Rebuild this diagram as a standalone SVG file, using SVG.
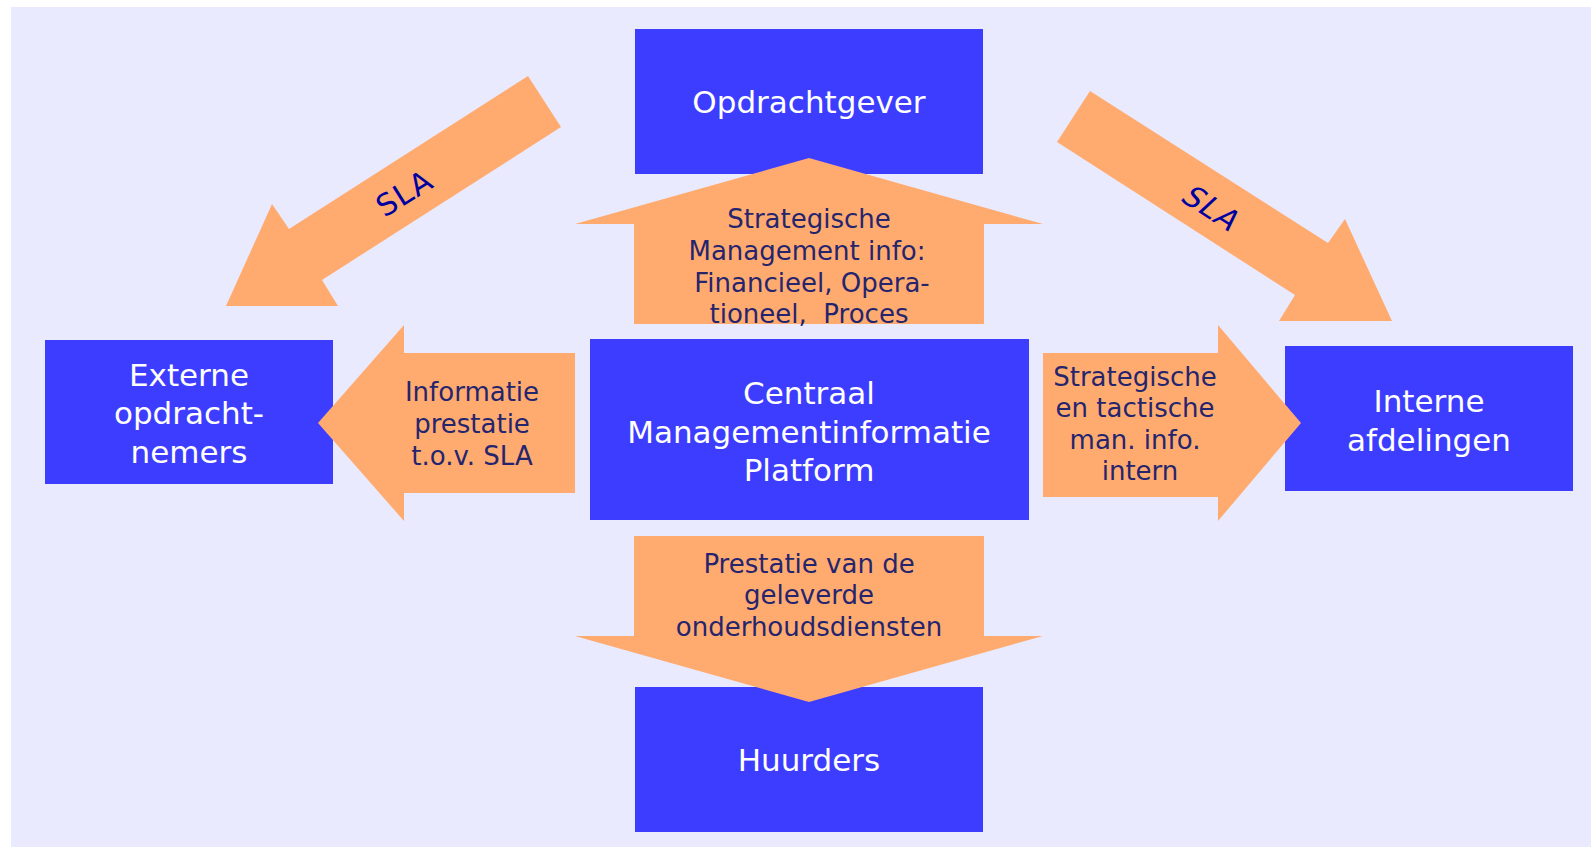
<svg xmlns="http://www.w3.org/2000/svg" width="1591" height="847" viewBox="0 0 1591 847">
<style>
.box{fill:#3d3dff}
.arr{fill:#ffab70}
.wt{fill:#ffffff;font-family:"DejaVu Sans",Verdana,sans-serif;font-size:31px;text-anchor:middle}
.ot{fill:#25256e;font-family:"DejaVu Sans",Verdana,sans-serif;font-size:26px;text-anchor:middle;white-space:pre}
.sla{fill:#0000a0;font-family:"DejaVu Sans",Verdana,sans-serif;font-size:30px;text-anchor:middle;letter-spacing:1px}
</style>
<rect x="0" y="0" width="1591" height="847" fill="#ffffff"/>
<rect x="11" y="7" width="1580" height="840" fill="#e9eafd"/>
<g id="opdrachtgever">
<rect class="box" x="635" y="29" width="348" height="145"/>
<text class="wt" x="809" y="113">Opdrachtgever</text>
</g>
<g id="externe">
<rect class="box" x="45" y="340" width="288" height="144"/>
<text class="wt" x="189" y="386">Externe</text>
<text class="wt" x="189" y="424">opdracht-</text>
<text class="wt" x="189" y="463">nemers</text>
</g>
<g id="centraal">
<rect class="box" x="590" y="339" width="439" height="181"/>
<text class="wt" x="809" y="404">Centraal</text>
<text class="wt" x="809" y="443">Managementinformatie</text>
<text class="wt" x="809" y="481">Platform</text>
</g>
<g id="interne">
<rect class="box" x="1285" y="346" width="288" height="145"/>
<text class="wt" x="1429" y="412">Interne</text>
<text class="wt" x="1429" y="451">afdelingen</text>
</g>
<g id="huurders">
<rect class="box" x="635" y="687" width="348" height="145"/>
<text class="wt" x="809" y="771">Huurders</text>
</g>
<g id="connectors">
<g id="sla-left">
<polygon class="arr" points="528,76 561,127 322,280 338,306 226,306 272,204 289,229"/>
<text class="sla" transform="translate(410,202) rotate(-32)">SLA</text>
</g>
<g id="sla-right">
<polygon class="arr" points="1090,91 1057,142 1295,295 1279,321 1392,321 1345,219 1328,243"/>
<text class="sla" transform="translate(1204,216) rotate(33) skewX(-14)">SLA</text>
</g>
<g id="up-arrow">
<polygon class="arr" points="809,158 1043,224 984,224 984,324 634,324 634,224 575,224"/>
<text class="ot" x="809" y="228">Strategische</text>
<text class="ot" x="807" y="260">Management info:</text>
<text class="ot" x="812" y="292">Financieel, Opera-</text>
<text class="ot" x="809" y="323">tioneel,  Proces</text>
</g>
<g id="left-arrow">
<polygon class="arr" points="318,423 404,325 404,353 575,353 575,493 404,493 404,521"/>
<text class="ot" x="472" y="401">Informatie</text>
<text class="ot" x="472" y="433">prestatie</text>
<text class="ot" x="472" y="465">t.o.v. SLA</text>
</g>
<g id="right-arrow">
<polygon class="arr" points="1043,353 1218,353 1218,325 1301,423 1218,521 1218,497 1043,497"/>
<text class="ot" x="1135" y="386">Strategische</text>
<text class="ot" x="1135" y="417">en tactische</text>
<text class="ot" x="1135" y="449">man. info.</text>
<text class="ot" x="1140" y="480">intern</text>
</g>
<g id="down-arrow">
<polygon class="arr" points="634,536 984,536 984,636 1043,636 809,702 575,636 634,636"/>
<text class="ot" x="809" y="573">Prestatie van de</text>
<text class="ot" x="809" y="604">geleverde</text>
<text class="ot" x="809" y="636">onderhoudsdiensten</text>
</g>
</g>
</svg>
